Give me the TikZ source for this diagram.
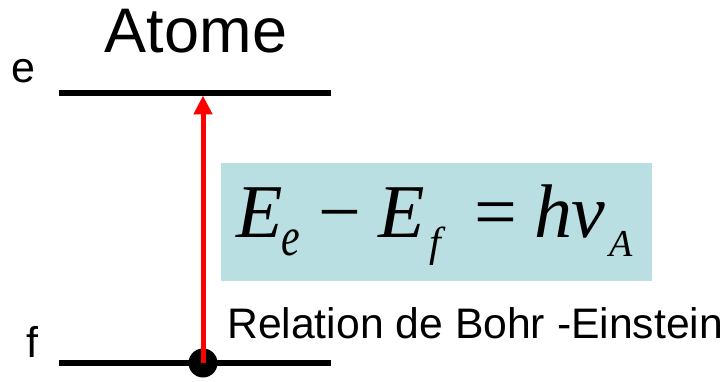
\documentclass[tikz,border=0pt]{standalone}
\usepackage{graphicx}
\usepackage{fontspec}
\setmainfont{Liberation Sans}
\newfontfamily\formulafont{Liberation Serif}
\usetikzlibrary{positioning,calc,arrows.meta}
\definecolor{boxcyan}{HTML}{BADFE2}
\definecolor{transred}{HTML}{FF0000}
% subscript: size, glyph
\newcommand{\lowidx}[2]{\raisebox{-19pt}{\fontsize{#1}{#1}\selectfont\itshape #2}}

\begin{document}
\begin{tikzpicture}[x=1pt, y=-1pt,
  level/.style={line width=5.5pt, draw=black},
  transition/.style={-{Triangle[width=18pt,length=19pt]}, line width=5pt, draw=transred},
  formulabox/.style={fill=boxcyan, draw=none},
  label/.style={inner sep=0pt},
]
\useasboundingbox (0,0) rectangle (723,382);
% ---------- title ----------
\node[label, anchor=base, font=\fontsize{63}{70}\selectfont] (title) at (196,53) {Atome};
% ---------- energy levels e and f ----------
\foreach \lvl/\yc/\xl/\yl in {e/93/11/83, f/363/26/357} {
  \coordinate (\lvl-left) at (59,\yc);
  \coordinate (\lvl-right) at (331,\yc);
  \coordinate (\lvl-mid) at (203,\yc);
  \draw[level] (\lvl-left) -- (\lvl-right);
  \node[label, anchor=base west, font=\fontsize{43}{48}\selectfont] (\lvl-name) at (\xl,\yl) {\lvl};
}
% ---------- transition f -> e ----------
\node[circle, fill=black, inner sep=0pt, minimum size=29pt] (start) at (f-mid) {};
\draw[transition] (start.center) -- ($(e-mid)+(0,2.5)$);
% ---------- Bohr-Einstein relation ----------
\fill[formulabox] (221,163) rectangle (652,281);
\node[label, anchor=base west, font=\formulafont\fontsize{76}{82}\selectfont] (relation) at (236,237)
  {\itshape E\kern-1pt\lowidx{42}{\scalebox{1}[1.3]{e}}\kern18.4pt\upshape −\kern16.6pt%
   \itshape E\kern4.6pt\lowidx{42}{f}\kern33.8pt\upshape =\kern16.6pt%
   \itshape h\kern-1pt v\kern4.3pt\lowidx{38}{A}};
\node[label, anchor=base west, font=\fontsize{42.7}{48}\selectfont] (caption) at (227,338) {Relation de Bohr -Einstein};
\end{tikzpicture}
\end{document}
